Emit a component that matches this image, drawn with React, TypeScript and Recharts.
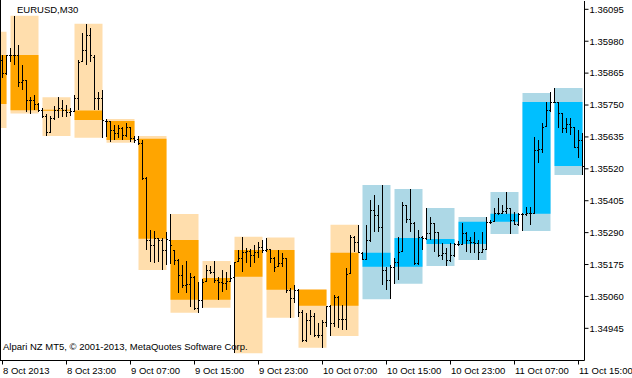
import React from 'react';
import { ComposedChart, Bar, XAxis, YAxis, ReferenceArea } from 'recharts';

// ---- M30 bars (EURUSD) ----
const barOpen = [
  1.35912, 1.35865, 1.35930, 1.35930, 1.35930, 1.35833, 1.35840, 1.35768, 1.35768, 1.35754,
  1.35732, 1.35710, 1.35653, 1.35703, 1.35732, 1.35739, 1.35732, 1.35725, 1.35730, 1.35775,
  1.35905, 1.35948, 1.36002, 1.35923, 1.35775, 1.35775, 1.35692, 1.35692, 1.35660, 1.35649,
  1.35667, 1.35642, 1.35671, 1.35631, 1.35628, 1.35613, 1.35487, 1.35263, 1.35245, 1.35271,
  1.35263, 1.35227, 1.35263, 1.35227, 1.35191, 1.35137, 1.35101, 1.35105, 1.35130, 1.35018,
  1.35048, 1.35112, 1.35155, 1.35148, 1.35119, 1.35112, 1.35108, 1.35116, 1.35130, 1.35184,
  1.35199, 1.35220, 1.35224, 1.35209, 1.35220, 1.35238, 1.35227, 1.35231, 1.35199, 1.35166,
  1.35181, 1.35199, 1.35083, 1.35054, 1.35083, 1.35004, 1.34903, 1.34975, 1.34989, 1.34921,
  1.34921, 1.34968, 1.35026, 1.34964, 1.35058, 1.34979, 1.34979, 1.35141, 1.35274, 1.35256,
  1.35217, 1.35195, 1.35263, 1.35372, 1.35354, 1.35310, 1.35155, 1.35119, 1.35167, 1.35184,
  1.35220, 1.35390, 1.35339, 1.35325, 1.35181, 1.35274, 1.35271, 1.35289, 1.35325, 1.35292,
  1.35209, 1.35217, 1.35191, 1.35209, 1.35249, 1.35249, 1.35289, 1.35263, 1.35256, 1.35253,
  1.35220, 1.35231, 1.35329, 1.35332, 1.35361, 1.35361, 1.35368, 1.35379, 1.35336, 1.35321,
  1.35357, 1.35357, 1.35361, 1.35361, 1.35588, 1.35592, 1.35671, 1.35732, 1.35761, 1.35761,
  1.35721, 1.35667, 1.35682, 1.35671, 1.35599, 1.35624,
];
const barHigh = [
  1.35930, 1.35930, 1.35956, 1.36072, 1.35966, 1.35894, 1.35840, 1.35779, 1.35786, 1.35757,
  1.35739, 1.35718, 1.35710, 1.35747, 1.35778, 1.35768, 1.35750, 1.35739, 1.35786, 1.35912,
  1.36010, 1.36043, 1.36028, 1.35930, 1.35797, 1.35804, 1.35700, 1.35692, 1.35678, 1.35678,
  1.35671, 1.35685, 1.35671, 1.35638, 1.35638, 1.35624, 1.35491, 1.35299, 1.35296, 1.35271,
  1.35271, 1.35292, 1.35357, 1.35227, 1.35195, 1.35173, 1.35188, 1.35144, 1.35134, 1.35112,
  1.35123, 1.35173, 1.35170, 1.35188, 1.35130, 1.35155, 1.35148, 1.35173, 1.35184, 1.35227,
  1.35275, 1.35235, 1.35231, 1.35245, 1.35256, 1.35263, 1.35271, 1.35231, 1.35202, 1.35227,
  1.35217, 1.35199, 1.35090, 1.35101, 1.35087, 1.35011, 1.35000, 1.35011, 1.35000, 1.34964,
  1.34975, 1.35026, 1.35029, 1.35065, 1.35062, 1.35029, 1.35163, 1.35281, 1.35278, 1.35318,
  1.35220, 1.35318, 1.35408, 1.35426, 1.35390, 1.35462, 1.35166, 1.35173, 1.35199, 1.35274,
  1.35400, 1.35390, 1.35447, 1.35328, 1.35299, 1.35278, 1.35379, 1.35346, 1.35325, 1.35292,
  1.35253, 1.35235, 1.35253, 1.35253, 1.35260, 1.35325, 1.35292, 1.35274, 1.35292, 1.35263,
  1.35292, 1.35346, 1.35336, 1.35379, 1.35415, 1.35390, 1.35436, 1.35379, 1.35364, 1.35361,
  1.35361, 1.35382, 1.35382, 1.35635, 1.35624, 1.35685, 1.35761, 1.35797, 1.35811, 1.35761,
  1.35721, 1.35703, 1.35703, 1.35671, 1.35660, 1.35649,
];
const barLow = [
  1.35847, 1.35858, 1.35905, 1.35894, 1.35815, 1.35804, 1.35725, 1.35718, 1.35732, 1.35725,
  1.35703, 1.35638, 1.35649, 1.35696, 1.35703, 1.35707, 1.35707, 1.35710, 1.35725, 1.35732,
  1.35905, 1.35894, 1.35905, 1.35732, 1.35732, 1.35632, 1.35635, 1.35617, 1.35624, 1.35631,
  1.35624, 1.35635, 1.35617, 1.35614, 1.35606, 1.35480, 1.35227, 1.35184, 1.35181, 1.35184,
  1.35155, 1.35173, 1.35177, 1.35173, 1.35072, 1.35090, 1.35072, 1.35022, 1.35011, 1.35001,
  1.35019, 1.35112, 1.35141, 1.35108, 1.35047, 1.35076, 1.35083, 1.35112, 1.34855, 1.35184,
  1.35148, 1.35181, 1.35166, 1.35181, 1.35199, 1.35217, 1.35220, 1.35181, 1.35148, 1.35166,
  1.35166, 1.35072, 1.34983, 1.35036, 1.34986, 1.34896, 1.34896, 1.34921, 1.34914, 1.34910,
  1.34875, 1.34950, 1.34917, 1.34950, 1.34946, 1.34939, 1.34939, 1.35141, 1.35220, 1.35217,
  1.35191, 1.35191, 1.35256, 1.35292, 1.35292, 1.35101, 1.35083, 1.35050, 1.35106, 1.35119,
  1.35220, 1.35325, 1.35292, 1.35173, 1.35173, 1.35227, 1.35263, 1.35263, 1.35220, 1.35202,
  1.35191, 1.35170, 1.35184, 1.35202, 1.35242, 1.35245, 1.35220, 1.35217, 1.35217, 1.35191,
  1.35217, 1.35227, 1.35321, 1.35328, 1.35354, 1.35357, 1.35357, 1.35285, 1.35318, 1.35314,
  1.35296, 1.35350, 1.35318, 1.35357, 1.35541, 1.35577, 1.35671, 1.35725, 1.35757, 1.35667,
  1.35649, 1.35649, 1.35642, 1.35595, 1.35559, 1.35498,
];
const barClose = [
  1.35865, 1.35930, 1.35930, 1.35930, 1.35833, 1.35840, 1.35768, 1.35768, 1.35754, 1.35732,
  1.35710, 1.35653, 1.35703, 1.35732, 1.35739, 1.35732, 1.35725, 1.35729, 1.35775, 1.35905,
  1.35948, 1.36002, 1.35930, 1.35775, 1.35775, 1.35696, 1.35692, 1.35660, 1.35649, 1.35667,
  1.35642, 1.35671, 1.35631, 1.35624, 1.35613, 1.35487, 1.35263, 1.35245, 1.35271, 1.35263,
  1.35227, 1.35268, 1.35245, 1.35191, 1.35137, 1.35101, 1.35105, 1.35130, 1.35018, 1.35048,
  1.35112, 1.35155, 1.35148, 1.35119, 1.35112, 1.35108, 1.35116, 1.35126, 1.35184, 1.35199,
  1.35220, 1.35224, 1.35209, 1.35220, 1.35238, 1.35227, 1.35231, 1.35199, 1.35166, 1.35181,
  1.35199, 1.35083, 1.35054, 1.35084, 1.35004, 1.34903, 1.34975, 1.34989, 1.34921, 1.34921,
  1.34968, 1.35026, 1.34964, 1.35058, 1.34979, 1.34979, 1.35141, 1.35274, 1.35256, 1.35217,
  1.35195, 1.35263, 1.35372, 1.35354, 1.35310, 1.35155, 1.35119, 1.35167, 1.35184, 1.35220,
  1.35390, 1.35339, 1.35325, 1.35181, 1.35274, 1.35271, 1.35289, 1.35325, 1.35292, 1.35209,
  1.35217, 1.35191, 1.35209, 1.35249, 1.35249, 1.35289, 1.35263, 1.35256, 1.35253, 1.35220,
  1.35231, 1.35329, 1.35329, 1.35361, 1.35361, 1.35368, 1.35379, 1.35336, 1.35321, 1.35357,
  1.35357, 1.35361, 1.35361, 1.35588, 1.35592, 1.35671, 1.35732, 1.35761, 1.35761, 1.35721,
  1.35667, 1.35682, 1.35671, 1.35599, 1.35624, 1.35530,
];

// ---- H4 candles drawn as boxes (first M30 bar index of each) ----
const boxStart = [-6, 2, 10, 18, 26, 34, 42, 50, 58, 66, 74, 82, 90, 98, 106, 114, 122, 130, 138];
const boxOpen = [1.35930, 1.35930, 1.35733, 1.35730, 1.35692, 1.35628, 1.35263, 1.35048, 1.35131, 1.35227, 1.35084, 1.35026, 1.35217, 1.35167, 1.35267, 1.35249, 1.35329, 1.35358, 1.35761];
const boxHigh = [1.36014, 1.36072, 1.35778, 1.36043, 1.35700, 1.35638, 1.35357, 1.35188, 1.35275, 1.35272, 1.35087, 1.35318, 1.35462, 1.35447, 1.35379, 1.35346, 1.35436, 1.35793, 1.35811];
const boxLow = [1.35667, 1.35719, 1.35638, 1.35632, 1.35614, 1.35155, 1.35001, 1.35019, 1.34855, 1.34983, 1.34875, 1.34917, 1.35050, 1.35106, 1.35170, 1.35191, 1.35285, 1.35296, 1.35498];
const boxClose = [1.35754, 1.35731, 1.35729, 1.35696, 1.35624, 1.35268, 1.35048, 1.35126, 1.35227, 1.35084, 1.35026, 1.35217, 1.35167, 1.35271, 1.35249, 1.35329, 1.35358, 1.35761, 1.35530];
const boxTrend = ['dn', 'dn', 'dn', 'dn', 'dn', 'dn', 'dn', 'dn', 'dn', 'dn', 'dn', 'dn', 'up', 'up', 'up', 'up', 'up', 'up', 'up'];

// ---- axes ----
const timeTickIndex = [0, 16, 32, 48, 64, 80, 96, 112, 128, 144];
const timeTickLabels = ['8 Oct 2013', '8 Oct 23:00', '9 Oct 07:00', '9 Oct 15:00', '9 Oct 23:00', '10 Oct 07:00', '10 Oct 15:00', '10 Oct 23:00', '11 Oct 07:00', '11 Oct 15:00'];
const priceTicks = [1.34945, 1.35060, 1.35175, 1.35290, 1.35405, 1.35520, 1.35635, 1.35750, 1.35865, 1.35980, 1.36095];
const priceDomain = [1.34829, 1.36125];

const FONT = '"Liberation Sans", Arial, sans-serif';
const FS = 9.5;
const COLORS: Record<string, { body: string; range: string }> = {
  dn: { body: '#FFA500', range: '#FFDEAD' },
  up: { body: '#00BFFF', range: '#ADD8E6' },
};

const data = barOpen.map((o, i) => ({ i, o, h: barHigh[i], l: barLow[i], c: barClose[i] }));

const OhlcBar = (props: any) => {
  const { x, y, width, height, payload } = props;
  if (!payload || x == null || y == null) return null;
  const top = Math.min(y, y + height);
  const bot = Math.max(y, y + height);
  const span = payload.h - payload.l;
  const toY = (v: number) => (span > 0 ? top + ((payload.h - v) / span) * (bot - top) : top);
  const xc = Math.floor(x + width / 2);
  const yT = Math.round(top);
  const yB = Math.max(Math.round(bot), yT + 1);
  const yo = Math.min(Math.round(toY(payload.o)), yB - 1);
  const yc = Math.min(Math.round(toY(payload.c)), yB - 1);
  return (
    <g shapeRendering="crispEdges" fill="#000">
      <rect x={xc} y={yT} width={1} height={yB - yT} />
      <rect x={xc - 1} y={yo} width={1} height={1} />
      <rect x={xc + 1} y={yc} width={1} height={1} />
    </g>
  );
};

const TimeTick = (props: any) => {
  const { x, y, payload } = props;
  const idx = timeTickIndex.indexOf(payload.value);
  return (
    <text x={x + 0.5} y={y} dy={7.5} textAnchor="start" fontSize={FS} fontFamily={FONT} fill="#000">
      {idx >= 0 ? timeTickLabels[idx] : ''}
    </text>
  );
};

export default function App() {
  const boxes = boxStart.map((s, j) => {
    const col = COLORS[boxTrend[j]];
    return (
      <React.Fragment key={'b' + j}>
        <ReferenceArea
          xAxisId="n"
          x1={s}
          x2={s + 7}
          y1={boxLow[j]}
          y2={boxHigh[j]}
          fill={col.range}
          fillOpacity={1}
          stroke="none"
          ifOverflow="hidden"
        />
        <ReferenceArea
          xAxisId="n"
          x1={s}
          x2={s + 7}
          y1={Math.min(boxOpen[j], boxClose[j])}
          y2={Math.max(boxOpen[j], boxClose[j])}
          fill={col.body}
          fillOpacity={1}
          stroke="none"
          ifOverflow="hidden"
        />
      </React.Fragment>
    );
  });

  return (
    <div style={{ position: 'absolute', left: 0, top: 0, width: 632, height: 378, background: '#fff' }}>
      <ComposedChart
        width={632}
        height={378}
        data={data}
        margin={{ top: 1, right: 0, bottom: 0, left: 0.5 }}
        barCategoryGap={0}
      >
        <XAxis
          xAxisId="c"
          dataKey="i"
          type="category"
          ticks={timeTickIndex}
          interval={0}
          height={17.5}
          tickSize={4}
          tickMargin={2}
          axisLine={{ stroke: '#000' }}
          tickLine={{ stroke: '#000' }}
          tick={<TimeTick />}
        />
        <XAxis xAxisId="n" dataKey="i" type="number" domain={[-0.5, 145.5]} allowDataOverflow hide />
        <YAxis
          orientation="right"
          type="number"
          domain={priceDomain}
          allowDataOverflow
          ticks={priceTicks}
          interval={0}
          width={47.5}
          tickSize={4}
          tickMargin={1}
          axisLine={{ stroke: '#000' }}
          tickLine={{ stroke: '#000' }}
          tick={{ fill: '#000', fontSize: FS, fontFamily: FONT }}
          tickFormatter={(v: number) => v.toFixed(5)}
        />
        {boxes}
        <Bar
          xAxisId="c"
          dataKey={(d: any) => [d.l, d.h]}
          shape={<OhlcBar />}
          isAnimationActive={false}
        />
      </ComposedChart>
      <svg
        width={632}
        height={378}
        style={{ position: 'absolute', left: 0, top: 0, pointerEvents: 'none' }}
      >
        <line x1={0.5} y1={0} x2={0.5} y2={361} stroke="#000" strokeWidth={1} />
        <text x={17} y={12.5} fontSize={FS} fontFamily={FONT} fill="#000">EURUSD,M30</text>
        <text x={3} y={350} fontSize={FS} fontFamily={FONT} fill="#000">
          Alpari NZ MT5, © 2001-2013, MetaQuotes Software Corp.
        </text>
      </svg>
    </div>
  );
}
